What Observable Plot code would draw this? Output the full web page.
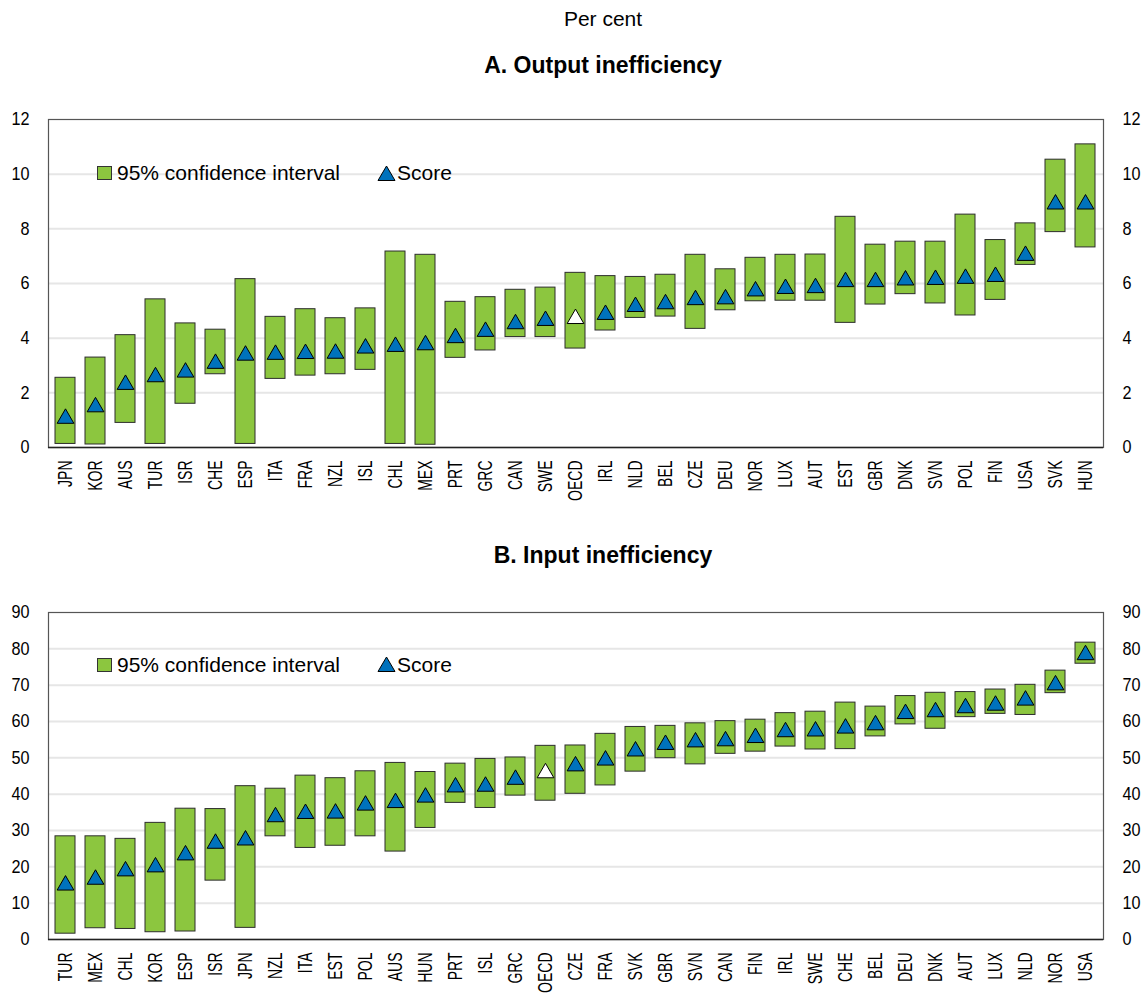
<!DOCTYPE html>
<html><head><meta charset="utf-8">
<script src="https://cdn.jsdelivr.net/npm/d3@7"></script>
<script src="https://cdn.jsdelivr.net/npm/@observablehq/plot@0.6"></script>
<style>
body{margin:0;background:#fff;font-family:"Liberation Sans",Arial,sans-serif;color:#000;}
#wrap{position:relative;width:1148px;height:1003px;overflow:hidden;}
.t{position:absolute;left:303px;width:600px;text-align:center;white-space:nowrap;}
.abs{position:absolute;white-space:nowrap;}
.leg{font-size:21px;line-height:24px;}
</style></head><body><div id="wrap">
<div class="t" style="top:7px;font-size:21px;line-height:24px;">Per cent</div>
<div class="t" style="top:52px;font-size:23px;line-height:26px;font-weight:bold;">A. Output inefficiency</div>
<div class="t" style="top:542px;font-size:23px;line-height:26px;font-weight:bold;">B. Input inefficiency</div>
</div>
<script>
// ---- Panel A: Output inefficiency ----
const countriesA = ["JPN","KOR","AUS","TUR","ISR","CHE","ESP","ITA","FRA","NZL","ISL","CHL","MEX","PRT","GRC","CAN","SWE","OECD","IRL","NLD","BEL","CZE","DEU","NOR","LUX","AUT","EST","GBR","DNK","SVN","POL","FIN","USA","SVK","HUN"];
const lowA   = [0.13,0.11,0.90,0.13,1.60,2.68,0.13,2.51,2.63,2.68,2.84,0.13,0.10,3.28,3.55,4.04,4.04,3.62,4.28,4.74,4.79,4.34,5.02,5.35,5.37,5.37,4.56,5.23,5.61,5.27,4.83,5.40,6.68,7.88,7.32];
const highA  = [2.55,3.29,4.11,5.42,4.54,4.31,6.16,4.78,5.06,4.73,5.09,7.17,7.05,5.33,5.50,5.77,5.85,6.39,6.27,6.24,6.32,7.05,6.52,6.94,7.05,7.06,8.44,7.42,7.53,7.53,8.52,7.59,8.20,10.53,11.09];
const scoreA = [1.15,1.57,2.39,2.67,2.84,3.16,3.46,3.49,3.52,3.53,3.72,3.78,3.84,4.10,4.33,4.61,4.73,4.80,4.95,5.24,5.34,5.49,5.52,5.81,5.90,5.93,6.15,6.15,6.21,6.23,6.27,6.34,7.11,8.99,8.99];
const ticksA = [0,2,4,6,8,10,12];

// ---- Panel B: Input inefficiency ----
const countriesB = ["TUR","MEX","CHL","KOR","ESP","ISR","JPN","NZL","ITA","EST","POL","AUS","HUN","PRT","ISL","GRC","OECD","CZE","FRA","SVK","GBR","SVN","CAN","FIN","IRL","SWE","CHE","BEL","DEU","DNK","AUT","LUX","NLD","NOR","USA"];
const lowB   = [1.6,3.1,2.9,2.0,2.2,16.2,3.2,28.4,25.2,25.8,28.4,24.2,30.7,37.6,36.2,39.6,38.2,40.1,42.4,46.2,49.9,48.2,51.1,51.7,53.1,52.3,52.4,55.9,59.2,58.0,61.2,62.1,61.8,67.8,75.9];
const highB  = [28.4,28.4,27.7,32.1,36.0,35.9,42.2,41.5,45.1,44.4,46.3,48.6,46.1,48.4,49.7,50.1,53.3,53.4,56.6,58.5,58.8,59.5,60.1,60.5,62.3,62.7,65.2,64.1,67.0,67.9,68.1,68.8,70.1,74.0,81.7];
const scoreB = [15.6,17.2,19.5,20.6,23.9,27.1,28.0,34.4,35.3,35.4,37.6,38.3,39.8,42.6,42.8,44.7,46.5,48.4,50.0,52.5,54.3,55.0,55.3,56.2,57.8,58.0,58.8,59.7,62.8,63.3,64.4,65.1,66.5,70.7,79.0];
const ticksB = [0,10,20,30,40,50,60,70,80,90];

const legendLabels = ["95% confidence interval", "Score"];
const GREEN = "#8cc63f", BLUE = "#0072bc";

// triangle centred on its bounding box
const tri = {draw(ctx, size) {
  const s = Math.sqrt(4 * size / Math.sqrt(3)), h = s * Math.sqrt(3) / 2;
  ctx.moveTo(0, -h / 2); ctx.lineTo(s / 2, h / 2); ctx.lineTo(-s / 2, h / 2); ctx.closePath();
}};

function squish(svg, label, sx) {
  d3.select(svg).selectAll(`g[aria-label="${label}"] text`).each(function() {
    const el = d3.select(this);
    let tr = el.attr("transform");
    if (!tr) {
      const x = +el.attr("x") || 0, y = +el.attr("y") || 0;
      el.attr("x", null).attr("y", null);
      tr = `translate(${x},${y})`;
    }
    el.attr("transform", tr + ` scale(${sx},1)`);
  });
}

function panel(countries, low, high, score, ticks, top, marginTop, plotH, marginBottom) {
  const data = countries.map((c, i) => ({c, lo: low[i], hi: high[i], s: score[i]}));
  const svg = Plot.plot({
    width: 1148, height: marginTop + plotH + marginBottom,
    marginTop, marginBottom, marginLeft: 48, marginRight: 45,
    x: {domain: countries, paddingInner: 0.33, paddingOuter: 0.165, label: null},
    y: {domain: [ticks[0], ticks[ticks.length - 1]], label: null},
    style: {fontFamily: '"Liberation Sans", Arial, sans-serif', fontSize: "18px", background: "transparent", color: "#000", overflow: "visible"},
    marks: [
      Plot.ruleY(ticks.slice(1, -1), {stroke: "#e6e6e6", strokeWidth: 2}),
      Plot.barY(data, {x: "c", y1: "lo", y2: "hi", fill: GREEN, stroke: "#2d2d2d", strokeWidth: 1}),
      Plot.dot(data.filter(d => d.c !== "OECD"), {x: "c", y: "s", symbol: tri, r: 6.2, fill: BLUE, stroke: "#000", strokeWidth: 1}),
      Plot.dot(data.filter(d => d.c === "OECD"), {x: "c", y: "s", symbol: tri, r: 6.2, fill: "#fff", stroke: "#000", strokeWidth: 1}),
      Plot.frame({stroke: "#555", strokeWidth: 1.2}),
      Plot.ruleY([ticks[0]], {stroke: "#222", strokeWidth: 1.6}),
      Plot.axisY({anchor: "left", ticks, tickSize: 0, tickPadding: 19, fontSize: 18, label: null}),
      Plot.axisY({anchor: "right", ticks, tickSize: 0, tickPadding: 19, fontSize: 18, label: null}),
      Plot.axisX({tickSize: 0, tickPadding: 13, tickRotate: -90, fontSize: 20, label: null})
    ]
  });
  squish(svg, "x-axis tick label", 0.7);
  squish(svg, "y-axis tick label", 0.9);
  svg.style.position = "absolute";
  svg.style.left = "0px";
  svg.style.top = top + "px";
  document.getElementById("wrap").appendChild(svg);
}

function legend(cy) {
  const wrap = document.getElementById("wrap");
  const sq = document.createElement("div");
  sq.className = "abs";
  sq.style.cssText += `left:97px;top:${cy - 7}px;width:13px;height:12px;background:${GREEN};border:1px solid #333;`;
  wrap.appendChild(sq);
  const t1 = document.createElement("div");
  t1.className = "abs leg"; t1.textContent = legendLabels[0];
  t1.style.left = "117px"; t1.style.top = (cy - 12) + "px";
  wrap.appendChild(t1);
  const ns = "http://www.w3.org/2000/svg";
  const s = document.createElementNS(ns, "svg");
  s.setAttribute("width", 19); s.setAttribute("height", 17);
  s.style.position = "absolute"; s.style.left = "377px"; s.style.top = (cy - 8.5) + "px";
  const p = document.createElementNS(ns, "polygon");
  p.setAttribute("points", "9.5,1 18,15.5 1,15.5");
  p.setAttribute("fill", BLUE); p.setAttribute("stroke", "#000"); p.setAttribute("stroke-width", 1);
  s.appendChild(p); wrap.appendChild(s);
  const t2 = document.createElement("div");
  t2.className = "abs leg"; t2.textContent = legendLabels[1];
  t2.style.left = "397px"; t2.style.top = (cy - 12) + "px";
  wrap.appendChild(t2);
}

panel(countriesA, lowA, highA, scoreA, ticksA, 90, 29, 328, 63);
panel(countriesB, lowB, highB, scoreB, ticksB, 580, 32, 327, 64);
legend(173);
legend(664.5);
</script></body></html>
